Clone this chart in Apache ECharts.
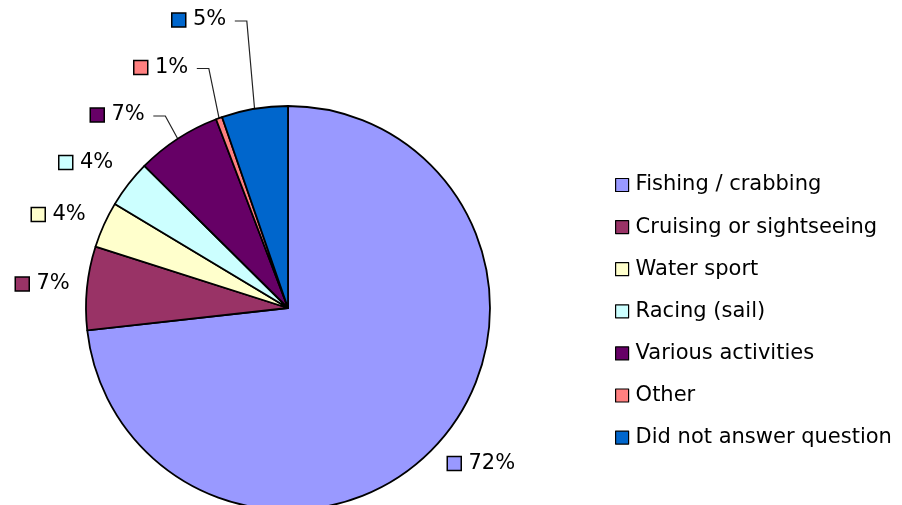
<!DOCTYPE html>
<html><head><meta charset="utf-8">
<script src="https://cdn.jsdelivr.net/npm/echarts@6/dist/echarts.min.js"></script>
<style>html,body{margin:0;padding:0;background:#fff}#c{width:902px;height:505px}</style>
</head><body><div id="c"></div>
<script>
const categories = ['Fishing / crabbing','Cruising or sightseeing','Water sport','Racing (sail)','Various activities','Other','Did not answer question'];
const shares = [73.3, 6.7, 3.7, 3.8, 6.8, 0.5, 5.3];
const shownPercent = [72, 7, 4, 4, 7, 1, 5];
const colors = ['#9999FF','#993366','#FFFFCC','#CCFFFF','#660066','#FF8080','#0066CC'];
const labelAnchor = [[448,463.5],[16,284],[32,214.5],[59.5,162.5],[91,115],[134.5,67.5],[172.5,20]];
const hasLeader = [false,false,false,false,true,true,true];

const CX = 288, CY = 308, R = 202;
const FONT = 'DejaVu Sans';

const rich = {};
colors.forEach((c,i)=>{ rich['sq'+i] = {width:12.5, height:12.5, backgroundColor:c, borderColor:'#000', borderWidth:1.5}; });
rich.t = {fontFamily:FONT, fontSize:21, color:'#000', padding:[0,0,0,8]};

function midEdgePoint(i){
  const total = shares.reduce((a,b)=>a+b,0);
  let before = 0; for (let k=0;k<i;k++) before += shares[k];
  const ang = (before + shares[i]/2)/total*2*Math.PI;
  return [CX + R*Math.sin(ang), CY - R*Math.cos(ang)];
}

const chart = echarts.init(document.getElementById('c'), null, {renderer:'canvas'});
chart.setOption({
  animation:false,
  backgroundColor:'#fff',
  legend:{
    orient:'vertical', left:610, top:169.5,
    itemWidth:13, itemHeight:13, itemGap:21.1,
    icon:'rect',
    itemStyle:{borderColor:'#000', borderWidth:1.2},
    textStyle:{fontFamily:FONT, fontSize:21, color:'#000', lineHeight:21, padding:[0,0,0,2]},
    data:categories
  },
  series:[{
    type:'pie', center:[CX,CY], radius:R, startAngle:90, clockwise:true,
    avoidLabelOverlap:false, silent:true,
    itemStyle:{borderColor:'#000', borderWidth:1.8},
    label:{show:true, position:'outside',
      formatter: p => '{sq'+p.dataIndex+'|}{t|' + shownPercent[p.dataIndex] + '%}', rich: rich},
    labelLine:{show:false, length:10, length2:10, lineStyle:{color:'#222', width:1.2}},
    labelLayout: function(p){
      const i = p.dataIndex;
      const a = labelAnchor[i];
      const res = {x:a[0], y:a[1], align:'left', verticalAlign:'middle'};
      if (hasLeader[i]) {
        const p0 = (p.labelLinePoints && p.labelLinePoints[0]) ? p.labelLinePoints[0] : midEdgePoint(i);
        const endX = a[0] + p.labelRect.width + 7;
        res.labelLinePoints = [p0, [endX+12, a[1]+1], [endX, a[1]+1]];
      }
      return res;
    },
    data: categories.map((n,i)=>({name:n, value:shares[i], itemStyle:{color:colors[i]}, labelLine:{show:hasLeader[i]}}))
  }]
});
</script></body></html>
